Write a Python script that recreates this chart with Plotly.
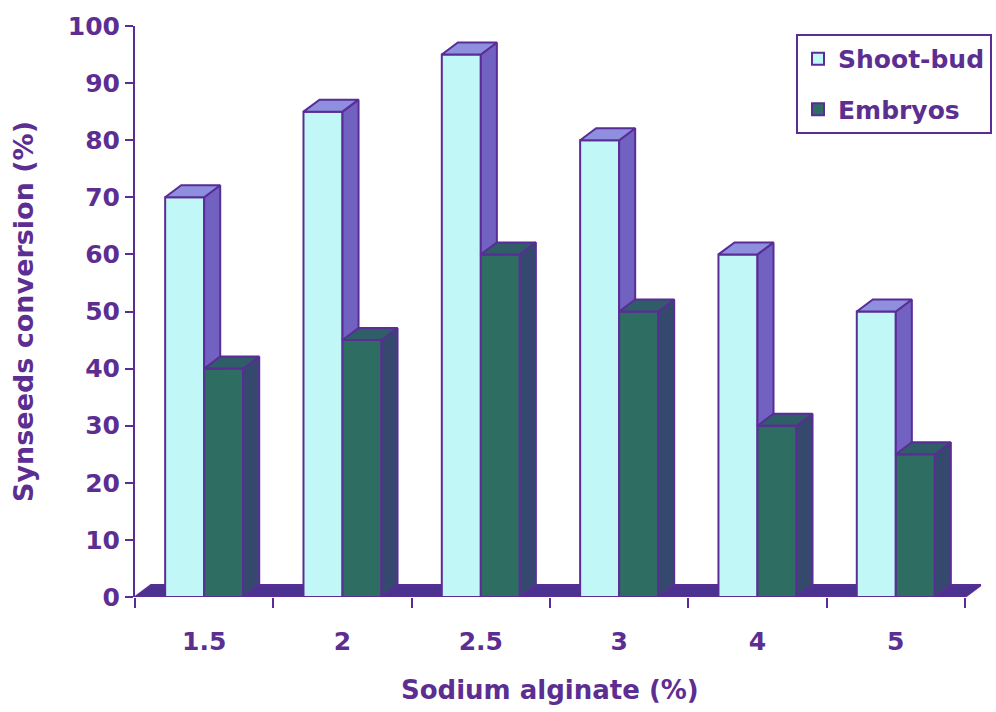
import plotly.graph_objects as go

# Sodium alginate concentration (%) and synseed conversion (%)
categories = ["1.5", "2", "2.5", "3", "4", "5"]
shoot_bud = [70, 85, 95, 80, 60, 50]
embryos = [40, 45, 60, 50, 30, 25]
y_ticks = [0, 10, 20, 30, 40, 50, 60, 70, 80, 90, 100]

PURPLE = "#5A2D96"
TEXT = "#5C2E92"
FLOOR = "#4B3190"
SB_FRONT, SB_SIDE, SB_TOP = "#C2F7F8", "#7161C0", "#8F8FE0"
EM_FRONT, EM_SIDE, EM_TOP = "#2E6E62", "#35496E", "#2F5D68"

W = 0.282      # bar width (category units)
DX = 0.116     # depth offset along x (category units)
DY = 2.1       # depth offset along y (value units)
FONT = "DejaVu Sans"

pos = list(range(len(categories)))

fig = go.Figure()

# front faces
fig.add_trace(go.Bar(x=pos, y=shoot_bud, name="Shoot-bud", offset=-W, width=W,
                     legendgroup="sb",
                     marker=dict(color=SB_FRONT, line=dict(color=PURPLE, width=2))))
fig.add_trace(go.Bar(x=pos, y=embryos, name="Embryos", offset=0, width=W,
                     legendgroup="em",
                     marker=dict(color=EM_FRONT, line=dict(color=PURPLE, width=2))))


def polys(build):
    xs, ys = [], []
    for i, (v, e) in enumerate(zip(shoot_bud, embryos)):
        px, py = build(i, v, e)
        xs += px + [px[0], None]
        ys += py + [py[0], None]
    return xs, ys


def face(build, color):
    xs, ys = polys(build)
    fig.add_trace(go.Scatter(x=xs, y=ys, mode="lines", fill="toself", fillcolor=color,
                             line=dict(color=PURPLE, width=2), showlegend=False,
                             hoverinfo="skip", cliponaxis=False))


# shoot-bud side (only the part above the neighbouring embryo bar)
face(lambda i, v, e: ([i, i + DX, i + DX, i], [min(e, v), min(e, v), v + DY, v]), SB_SIDE)
# shoot-bud top
face(lambda i, v, e: ([i - W, i, i + DX, i - W + DX], [v, v, v + DY, v + DY]), SB_TOP)
# embryo side
face(lambda i, v, e: ([i + W, i + W + DX, i + W + DX, i + W], [0, DY, e + DY, e]), EM_SIDE)
# embryo top
face(lambda i, v, e: ([i, i + W, i + W + DX, i + DX], [e, e, e + DY, e + DY]), EM_TOP)

# floor slab
x0, x1 = -0.5, len(categories) - 0.5
fig.add_shape(type="path", xref="x", yref="y", layer="below",
              path=f"M {x0},0 L {x1},0 L {x1 + DX},{DY} L {x0 + DX},{DY} Z",
              fillcolor=FLOOR, line=dict(color=PURPLE, width=2))

# x-axis title, centred under the category span
fig.add_annotation(text="Sodium alginate (%)", x=(x0 + x1) / 2, xref="x",
                   y=-0.162, yref="paper", yanchor="middle", showarrow=False,
                   font=dict(size=26, color=TEXT, family=FONT, weight="bold"))

fig.update_layout(
    width=996, height=712,
    margin=dict(l=135, r=15, t=26, b=115, autoexpand=False),
    paper_bgcolor="white", plot_bgcolor="white",
    font=dict(family=FONT, color=TEXT, size=25, weight="bold"),
    legend=dict(x=1.013, xanchor="right", y=0.986, yanchor="top",
                bgcolor="white", bordercolor=PURPLE, borderwidth=2,
                font=dict(size=25, color=TEXT, family=FONT, weight="bold"),
                traceorder="grouped", tracegroupgap=15, itemwidth=30),
    showlegend=True,
)

fig.update_xaxes(
    range=[x0, x1 + DX], tickmode="array", tickvals=pos, ticktext=categories,
    ticks="outside", ticklen=0, ticklabelstandoff=22, showline=False,
    showgrid=False, zeroline=False,
    tickfont=dict(size=25, color=TEXT, family=FONT, weight="bold"),
    minor=dict(tick0=-0.5, dtick=1, ticks="outside", ticklen=10, tickwidth=2,
               tickcolor=PURPLE, showgrid=False),
)

fig.update_yaxes(
    range=[0, 100], tickmode="array", tickvals=y_ticks,
    ticks="outside", ticklen=8, tickwidth=2, tickcolor=PURPLE,
    showline=True, linecolor=PURPLE, linewidth=2,
    showgrid=False, zeroline=False,
    tickfont=dict(size=25, color=TEXT, family=FONT, weight="bold"),
    title=dict(text="Synseeds conversion (%)", standoff=26,
               font=dict(size=27, color=TEXT, family=FONT, weight="bold")),
)

fig.write_html("out.html")
